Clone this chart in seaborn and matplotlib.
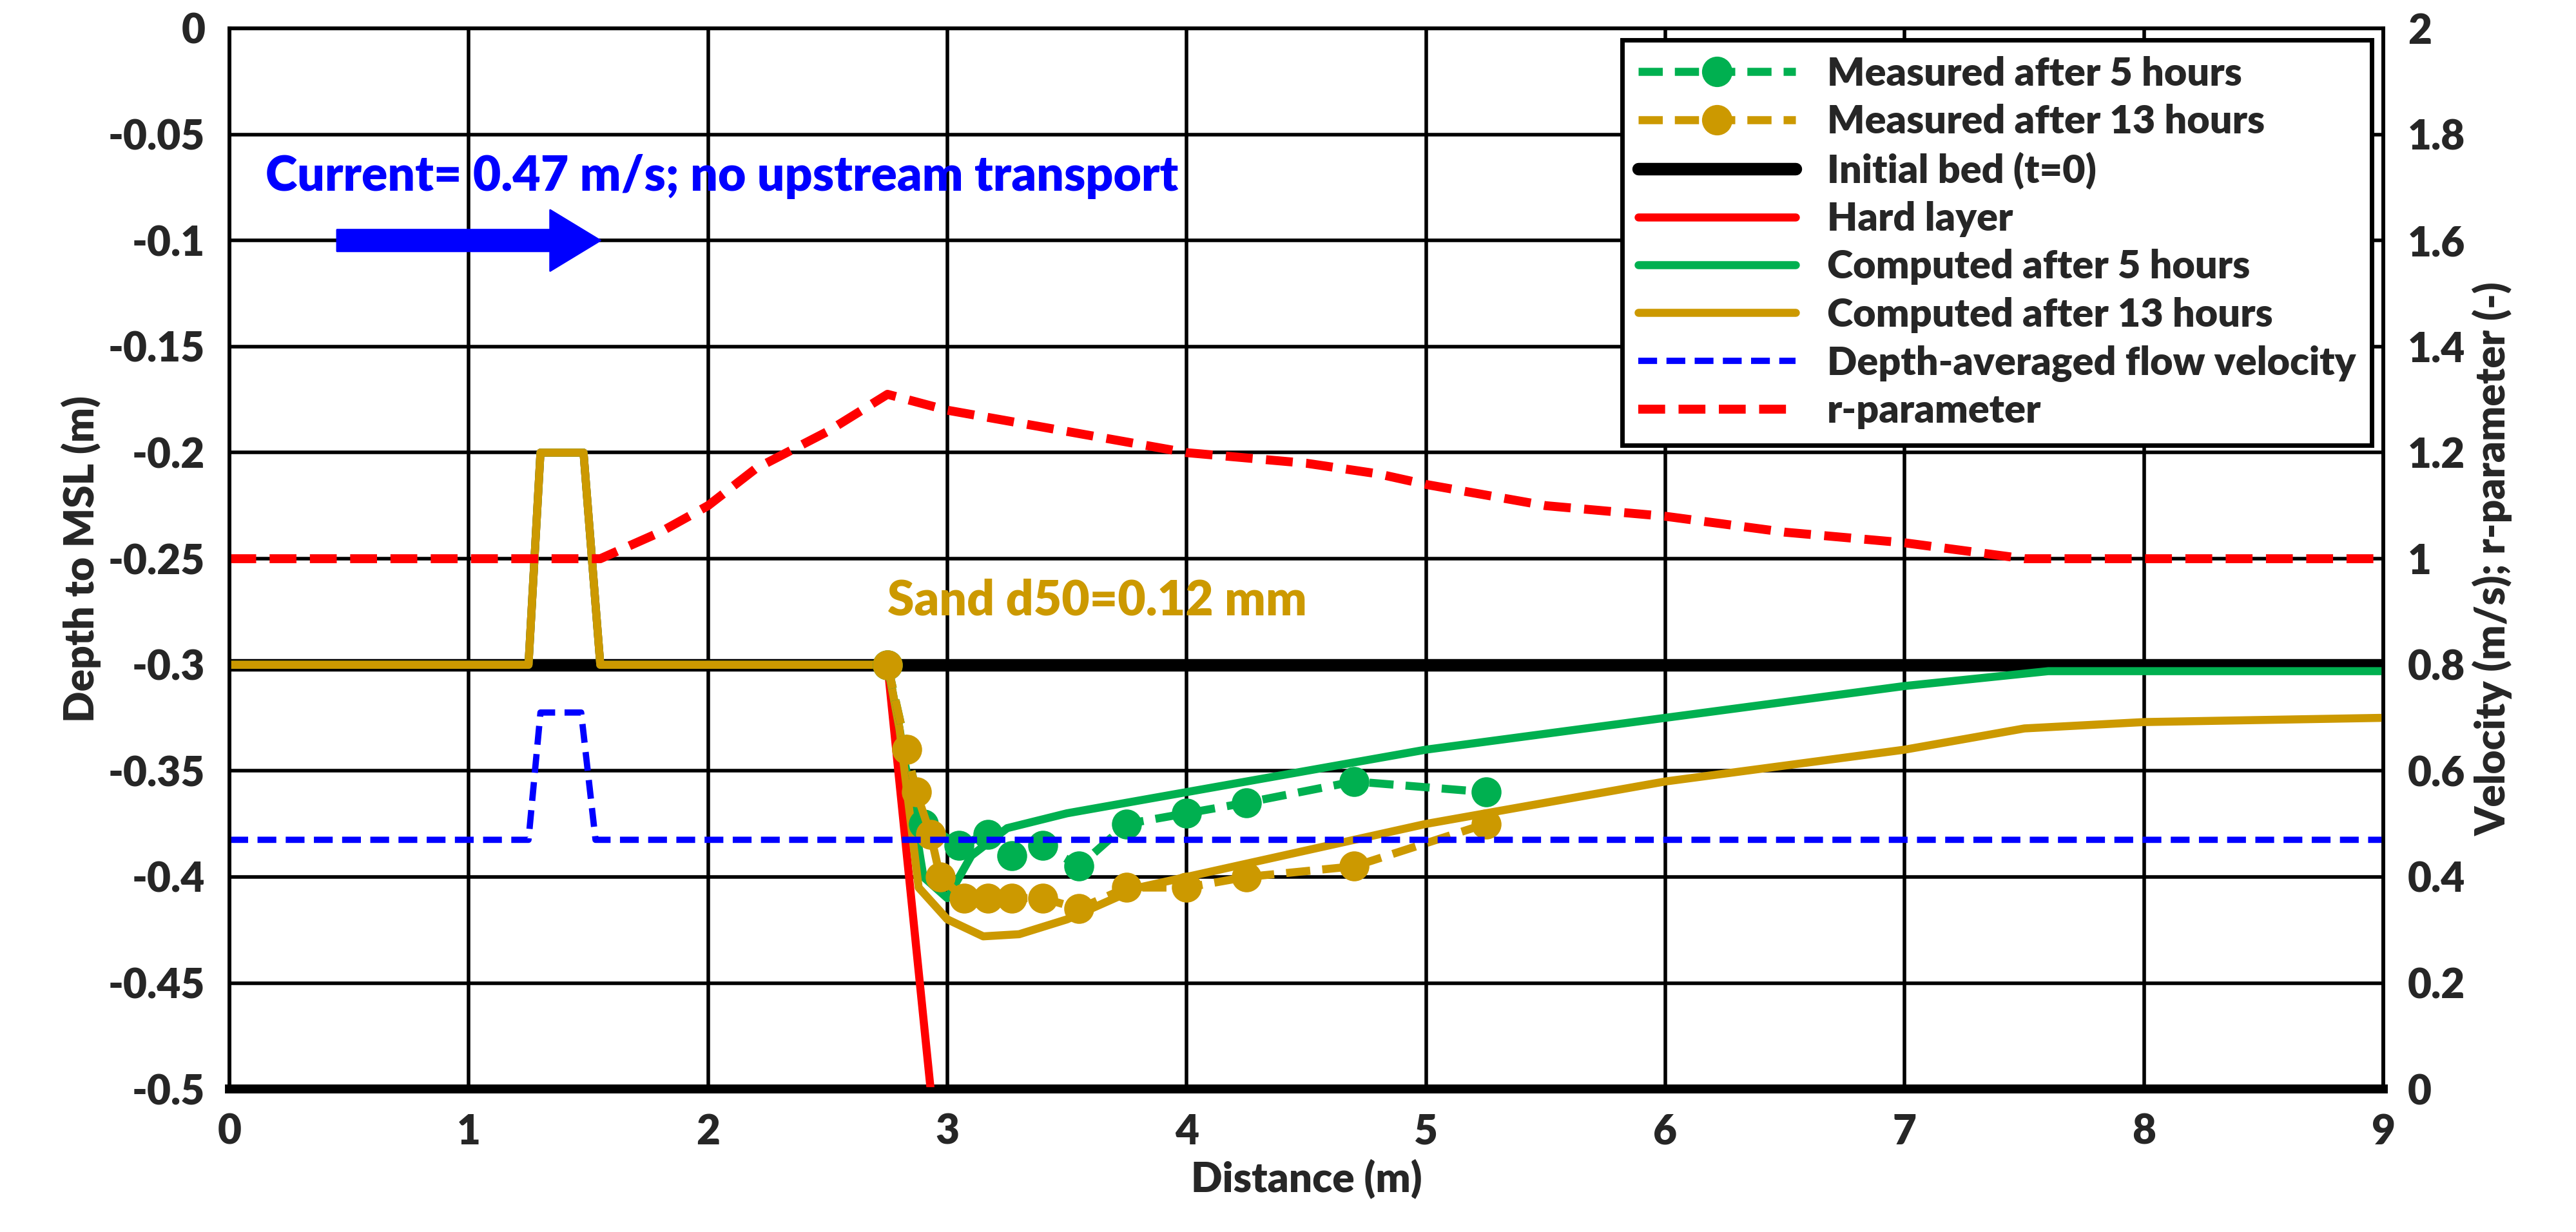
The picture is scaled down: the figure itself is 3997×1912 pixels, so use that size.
import matplotlib
matplotlib.use("Agg")
import matplotlib.pyplot as plt
import seaborn as sns
import pandas as pd

sns.set_style("white")
plt.rcParams['font.family'] = ['Lato', 'DejaVu Sans']
plt.rcParams['font.weight'] = 'heavy'

GREEN = "#00B050"; GOLD = "#CC9900"

meas5_x = [2.75, 2.9, 3.05, 3.17, 3.27, 3.4, 3.55, 3.75, 4.0, 4.25, 4.7, 5.25]
meas5_y = [-0.3, -0.375, -0.385, -0.38, -0.39, -0.385, -0.395, -0.375, -0.37, -0.365, -0.355, -0.36]
meas13_x = [2.75, 2.83, 2.87, 2.93, 2.97, 3.07, 3.17, 3.27, 3.4, 3.55, 3.75, 4.0, 4.25, 4.7, 5.25]
meas13_y = [-0.3, -0.34, -0.36, -0.38, -0.4, -0.41, -0.41, -0.41, -0.41, -0.415, -0.405, -0.405, -0.4, -0.395, -0.375]
init_x = [0, 9]
init_y = [-0.3, -0.3]
hard_x = [0, 1.25, 1.3, 1.48, 1.55, 2.75, 2.93]
hard_y = [-0.3, -0.3, -0.2, -0.2, -0.3, -0.3, -0.5]
comp5_x = [0, 1.25, 1.3, 1.48, 1.55, 2.75, 2.8, 2.9, 3.0, 3.1, 3.25, 3.5, 4.0, 4.5, 5.0, 6.0, 7.0, 7.6, 9.0]
comp5_y = [-0.3, -0.3, -0.2, -0.2, -0.3, -0.3, -0.33, -0.4, -0.41, -0.39, -0.377, -0.37, -0.36, -0.35, -0.34, -0.325, -0.31, -0.303, -0.303]
comp13_x = [0, 1.25, 1.3, 1.48, 1.55, 2.75, 2.8, 2.88, 3.0, 3.15, 3.3, 3.5, 3.8, 4.2, 4.6, 5.0, 6.0, 7.0, 7.5, 8.0, 9.0]
comp13_y = [-0.3, -0.3, -0.2, -0.2, -0.3, -0.3, -0.33, -0.405, -0.42, -0.428, -0.427, -0.42, -0.405, -0.395, -0.385, -0.375, -0.355, -0.34, -0.33, -0.327, -0.325]
vel_x = [0, 1.25, 1.3, 1.47, 1.53, 9]
vel_y = [0.47, 0.47, 0.71, 0.71, 0.47, 0.47]
r_x = [0, 1.55, 1.8, 2.0, 2.2, 2.5, 2.75, 3.0, 3.5, 4.0, 4.5, 4.8, 5.0, 5.5, 6.0, 6.5, 7.0, 7.5, 9.0]
r_y = [1.0, 1.0, 1.05, 1.1, 1.17, 1.24, 1.31, 1.28, 1.24, 1.2, 1.18, 1.16, 1.14, 1.1, 1.08, 1.05, 1.03, 1.0, 1.0]

fig = plt.figure(figsize=(19.99, 9.56), dpi=200)
ax = fig.add_axes([0.089, 0.116, 0.836, 0.861])
ax2 = ax.twinx()

def line(a, x, y, **kw):
    sns.lineplot(x=x, y=y, ax=a, sort=False, estimator=None, **kw)

dash = (0, (3, 1.5))
line(ax, init_x, init_y, color="black", lw=7, zorder=2)
line(ax, hard_x, hard_y, color="red", lw=4.5, zorder=3)
line(ax, comp5_x, comp5_y, color=GREEN, lw=4.5, zorder=4)
line(ax, comp13_x, comp13_y, color=GOLD, lw=4.5, zorder=5)
line(ax, meas5_x, meas5_y, color=GREEN, lw=4.5, ls=dash, marker="o", ms=16, mec=GREEN, zorder=6)
line(ax, meas13_x, meas13_y, color=GOLD, lw=4.5, ls=dash, marker="o", ms=16, mec=GOLD, zorder=6)
line(ax2, vel_x, vel_y, color="blue", lw=3.5, ls=dash)
line(ax2, r_x, r_y, color="red", lw=5, ls=dash)

ax.set_xlim(0, 9); ax.set_ylim(-0.5, 0)
ax2.set_ylim(0, 2)
ax.set_xticks(range(10))
ax.set_yticks([-0.5, -0.45, -0.4, -0.35, -0.3, -0.25, -0.2, -0.15, -0.1, -0.05, 0])
ax.set_yticklabels(["-0.5", "-0.45", "-0.4", "-0.35", "-0.3", "-0.25", "-0.2", "-0.15", "-0.1", "-0.05", "0"])
ax2.set_yticks([0, 0.2, 0.4, 0.6, 0.8, 1, 1.2, 1.4, 1.6, 1.8, 2])
ax2.set_yticklabels(["0", "0.2", "0.4", "0.6", "0.8", "1", "1.2", "1.4", "1.6", "1.8", "2"])
ax.grid(True, color="black", lw=2)
for a in (ax, ax2):
    for s in a.spines.values():
        s.set_color("black"); s.set_linewidth(2)
    a.tick_params(labelsize=23, width=0, pad=10)
    for t in a.get_xticklabels() + a.get_yticklabels():
        t.set_fontweight("heavy")
ax.set_xlabel("Distance (m)", fontsize=23, fontweight="heavy")
ax.set_ylabel("Depth to MSL (m)", fontsize=23, fontweight="heavy")
ax2.set_ylabel("Velocity (m/s); r-parameter (-)", fontsize=23, fontweight="heavy")
ax.spines['bottom'].set_linewidth(5)

ax.text(0.15, -0.07, "Current= 0.47 m/s; no upstream transport", color="blue", fontsize=27, fontweight="heavy", va="center")
ax.annotate("", xy=(1.55, -0.1), xytext=(0.45, -0.1),
            arrowprops=dict(facecolor="blue", edgecolor="blue", width=12, headwidth=34, headlength=28))
ax.text(2.75, -0.27, "Sand d50=0.12 mm", color=GOLD, fontsize=27, fontweight="heavy", va="center")

from matplotlib.lines import Line2D
h = [Line2D([], [], color=GREEN, lw=4.5, ls=dash, marker="o", ms=16),
     Line2D([], [], color=GOLD, lw=4.5, ls=dash, marker="o", ms=16),
     Line2D([], [], color="black", lw=7),
     Line2D([], [], color="red", lw=4.5),
     Line2D([], [], color=GREEN, lw=4.5),
     Line2D([], [], color=GOLD, lw=4.5),
     Line2D([], [], color="blue", lw=3.5, ls=dash),
     Line2D([], [], color="red", lw=5, ls=dash)]
labels = ["Measured after 5 hours", "Measured after 13 hours", "Initial bed (t=0)", "Hard layer",
          "Computed after 5 hours", "Computed after 13 hours", "Depth-averaged flow velocity", "r-parameter"]
leg = ax2.legend(h, labels, loc="upper right", prop={"size": 22, "weight": "heavy"}, frameon=True, fancybox=False,
                 edgecolor="black", framealpha=1, borderaxespad=0.3, handlelength=4, labelspacing=0.3)
leg.get_frame().set_linewidth(2.5)

fig.savefig("out.png", dpi=200)
